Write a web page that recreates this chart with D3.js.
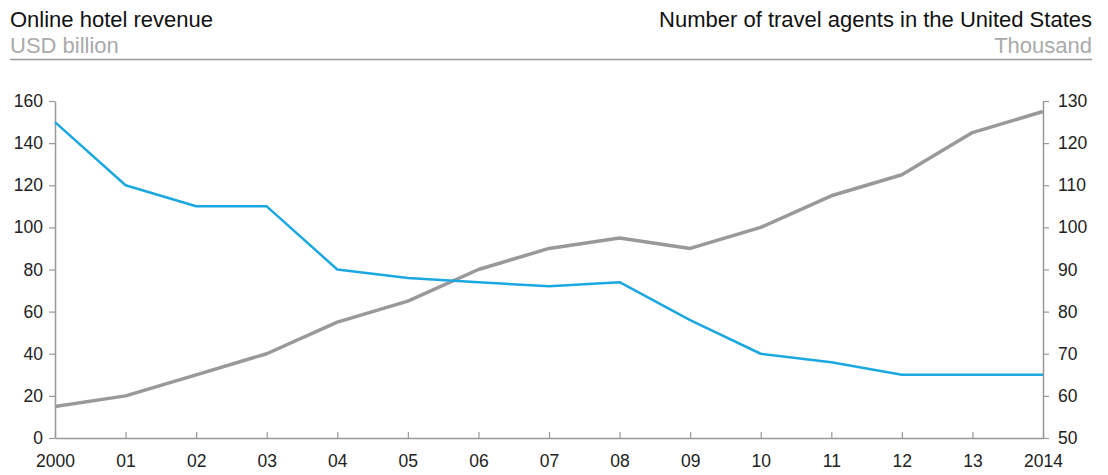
<!DOCTYPE html>
<html>
<head>
<meta charset="utf-8">
<script src="https://cdn.jsdelivr.net/npm/d3@7"></script>
<style>
  body { margin: 0; background: #fff; }
  svg text { font-family: "Liberation Sans", Arial, Helvetica, sans-serif; }
</style>
</head>
<body>
<svg></svg>
<script>
var years = ['2000','01','02','03','04','05','06','07','08','09','10','11','12','13','2014'];
// Online hotel revenue, USD billion (left axis)
var revenue = [15, 20, 30, 40, 55, 65, 80, 90, 95, 90, 100, 115, 125, 145, 155];
// Number of travel agents in the US, thousand (right axis)
var agents = [125, 110, 105, 105, 90, 88, 87, 86, 87, 78, 70, 68, 65, 65, 65];
var leftTicks = [0, 20, 40, 60, 80, 100, 120, 140, 160];
var rightTicks = [50, 60, 70, 80, 90, 100, 110, 120, 130];

var width = 1108;
var height = 475;
var svg = d3.select('svg')
    .attr('width', width)
    .attr('height', height);

var padding = { top: 101, bottom: 438, left: 55, right: 1043 };

var x = d3.scalePoint()
    .domain(years)
    .range([padding.left, padding.right]);

var yLeft = d3.scaleLinear()
    .domain([0, 160])
    .range([padding.bottom, padding.top]);

var yRight = d3.scaleLinear()
    .domain([50, 130])
    .range([padding.bottom, padding.top]);

// header
svg.append('text').attr('x', 10).attr('y', 27)
    .attr('font-size', 22).attr('fill', '#111')
    .text('Online hotel revenue');
svg.append('text').attr('x', 10).attr('y', 53)
    .attr('font-size', 22).attr('fill', '#aaa')
    .text('USD billion');
svg.append('text').attr('x', 1092).attr('y', 27)
    .attr('font-size', 22).attr('fill', '#111').attr('text-anchor', 'end')
    .text('Number of travel agents in the United States');
svg.append('text').attr('x', 1092).attr('y', 53)
    .attr('font-size', 22).attr('fill', '#aaa').attr('text-anchor', 'end')
    .text('Thousand');
svg.append('line')
    .attr('x1', 10).attr('x2', 1092).attr('y1', 59.5).attr('y2', 59.5)
    .attr('stroke', '#999').attr('stroke-width', 1.5);

function styleAxis(g) {
  g.select('.domain').attr('stroke', '#999').attr('stroke-width', 1.5);
  g.selectAll('.tick line').attr('stroke', '#999').attr('stroke-width', 1.2);
  g.selectAll('.tick text').attr('fill', '#222').attr('font-size', 17.5)
    .style('font-family', '"Liberation Sans", Arial, sans-serif');
}

// x axis, ticks pointing up
svg.append('g')
    .attr('transform', 'translate(0,' + padding.bottom + ')')
    .call(d3.axisBottom(x).tickSizeInner(-6).tickSizeOuter(0).tickPadding(17))
    .call(styleAxis);

svg.append('g')
    .attr('transform', 'translate(' + padding.left + ',0)')
    .call(d3.axisLeft(yLeft).tickValues(leftTicks).tickSizeInner(6).tickSizeOuter(0).tickPadding(6))
    .call(styleAxis);

svg.append('g')
    .attr('transform', 'translate(' + padding.right + ',0)')
    .call(d3.axisRight(yRight).tickValues(rightTicks).tickSizeInner(6).tickSizeOuter(0).tickPadding(9))
    .call(styleAxis);

var lineLeft = d3.line()
    .x((d, i) => x(years[i]))
    .y(d => yLeft(d));
var lineRight = d3.line()
    .x((d, i) => x(years[i]))
    .y(d => yRight(d));

svg.append('path')
    .datum(revenue)
    .attr('d', lineLeft)
    .attr('fill', 'none')
    .attr('stroke', '#999')
    .attr('stroke-width', 3.5)
    .attr('stroke-linejoin', 'round');

svg.append('path')
    .datum(agents)
    .attr('d', lineRight)
    .attr('fill', 'none')
    .attr('stroke', '#1ba8e0')
    .attr('stroke-width', 2.5)
    .attr('stroke-linejoin', 'round');
</script>
</body>
</html>
